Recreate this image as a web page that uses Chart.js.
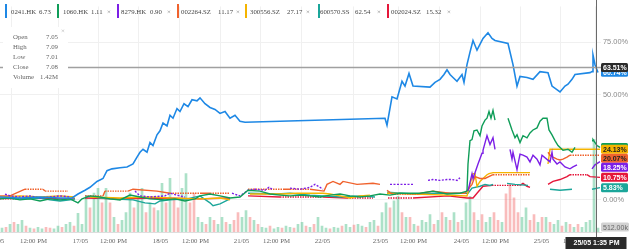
<!DOCTYPE html>
<html>
<head>
<meta charset="utf-8">
<script src="https://cdn.jsdelivr.net/npm/chart.js@4.4.1/dist/chart.umd.min.js"></script>
<style>
  html, body { margin: 0; padding: 0; background: #fff; }
  #wrap { width: 640px; height: 249px; position: relative; }
</style>
</head>
<body>
<div id="wrap"><canvas id="chart"></canvas></div>
<script>
// symbols, last prices and % change at the crosshair
const symbols = ["0241.HK", "1060.HK", "8279.HK", "002264.SZ", "300556.SZ", "600570.SS", "002024.SZ"];
const lastPrices = ["6.73", "1.11", "0.90", "11.17", "27.17", "62.54", "15.32"];
const badgePct = [60.74, null, 18.25, 20.07, 24.13, 5.83, 10.75];
const colors = ["#1e88e5", "#0f9d58", "#7c1fe6", "#f0622d", "#f5b400", "#1ba69a", "#e5173a"];
const badgeText = ["#fff", "#fff", "#fff", "#222", "#222", "#fff", "#fff"];

// time axis: session hours (16/05 .. 25/05), ticks every half session
const tickTimes = [-0.2, 3.5, 8.2, 11.5, 16.2, 19.7, 24.3, 27.8, 32.4, 38.2, 41.5, 46.3, 49.7, 54.3, 57.8];
const tickLabels = ["16/05", "12:00 PM", "17/05", "12:00 PM", "18/05", "12:00 PM", "21/05", "12:00 PM",
  "22/05", "23/05", "12:00 PM", "24/05", "12:00 PM", "25/05", "12:00 PM"];
const pctTicks = [0, 25, 50, 75];

// % change series, [time, pct]; null = no trading data
const s0241 = [[0,1.4],[2,0.9],[4,1.4],[6,0.9],[7.2,0.9],[7.8,2.8],[8.5,4.6],[9,6.0],[9.7,8.8],[10.3,10.2],[10.7,13.9],[11.2,14.8],[12,15.3],[12.7,15.7],[13.3,17.1],[13.7,20.4],[14,22.7],[14.3,24.1],[14.7,22.7],[15,27.3],[15.3,25.9],[15.7,31.0],[16,32.9],[16.3,36.6],[16.7,35.2],[17,40.3],[17.3,38.9],[17.7,43.5],[18,42.1],[18.4,45.8],[18.8,44.4],[19.2,47.7],[19.7,47.2],[20,48.6],[20.5,45.8],[21,44.0],[21.5,43.1],[22,41.2],[22.5,42.1],[23,38.9],[23.5,40.3],[24,37.5],[24.5,37.0],[38.5,38.9],[38.7,35.6],[39.2,49.1],[39.7,48.1],[40.2,56.5],[40.5,54.2],[40.9,60.2],[41.3,54.2],[43,53.7],[43.5,56.0],[44,57.4],[44.4,59.7],[44.7,62.0],[45,59.7],[45.3,58.3],[45.7,56.5],[46.2,59.7],[46.4,56.0],[46.7,64.4],[47,70.4],[47.3,75.9],[47.7,71.3],[48.3,76.9],[48.8,79.6],[49.2,76.9],[49.5,75.9],[50.8,74.5],[51.3,64.4],[51.7,54.2],[52,58.8],[52.7,58.3],[53.3,57.4],[54,61.1],[54.8,60.6],[55.2,54.2],[56,51.4],[56.5,54.2],[56.8,55.1],[57.2,57.4],[57.5,59.7],[59,60.6],[59.2,61.1],[59.3,69.0],[59.5,64.4],[59.8,60.7]];
const s1060 = [[0,0.5],[1,0.9],[2,0],[3,0.5],[4,-0.5],[5,0.5],[6,0],[7,0.5],[7.8,-1.4],[8.2,0.5],[9,1.9],[10,1.4],[11,0.5],[12,0],[13,2.3],[14,1.4],[15,0.5],[16.5,0],[17.5,0.5],[18.5,-0.5],[19.5,0.5],[20,1.9],[21,2.8],[22,1.9],[23,0.9],[24,1.4],[24.8,4.6],[26,4.2],[27,2.8],[28,2.3],[29,1.9],[30,2.3],[31,1.9],[32,1.4],[33,2.3],[34,2.8],[35,1.9],[36,1.4],[37,1.9],[38,2.8],[39,2.3],[40,3.2],[42,3.2],[43.3,4.2],[44.7,2.8],[46,3.2],[46.7,4.2],[46.8,17.1],[47,28.2],[47.2,28.7],[47.4,32.9],[47.7,33.3],[48,30.6],[48.2,35.2],[48.5,38.0],[48.7,38.9],[48.9,42.1],[49.1,38.9],[49.3,42.6],[49.5,38.0],[50,null],[50.8,38.9],[51.2,33.3],[51.5,29.6],[51.7,31.0],[52,27.3],[52.3,30.6],[52.7,29.6],[53,31.9],[53.3,33.3],[53.7,34.3],[54,37.5],[54.3,38.9],[54.7,38.9],[54.9,33.3],[55.2,31.0],[55.5,28.2],[55.8,25.9],[56.3,23.6],[56.8,24.1],[57.2,22.7],[57.5,25.0],[58,null],[59.2,28.2],[59.3,28.7],[59.7,25.9],[60,25.0]];
const s8279 = [[0.5,2.8],[1,1.9],[2,1.4],[3,1.9],[4,0.9],[5,1.4],[6,1.9],[7,1.4],[10,null],[13.5,4.2],[14,1.9],[15,1.4],[16.5,1.9],[17,3.2],[18,1.9],[18.5,1.4],[20,null],[23.2,3.2],[24,1.9],[24.8,4.6],[25.5,5.1],[26.5,4.6],[26.9,6.0],[27.2,5.1],[28,null],[29,5.6],[30,5.1],[31,6.0],[31.5,7.4],[32.3,5.1],[35,null],[39,7.4],[40,7.4],[41.3,7.4],[42,null],[42.8,9.3],[43.3,9.7],[44,9.3],[44.7,9.7],[45.2,9.7],[45.7,9.3],[46,10.6],[46.4,null],[46.8,4.2],[47.2,12.5],[47.3,10.2],[47.8,17.1],[48.2,22.2],[48.3,23.6],[48.7,30.6],[49,26.4],[49.3,29.6],[49.5,24.1],[50,null],[51,24.1],[51.2,19.4],[51.3,22.7],[51.7,14.4],[52,21.8],[52.3,21.3],[52.7,20.4],[53,18.1],[53.3,21.3],[53.7,19.4],[54,16.7],[54.2,21.3],[55,18.1],[55.2,22.7],[55.3,19.4],[55.7,17.1],[56,18.1],[56.5,15.7],[57,14.8],[57.3,15.7],[57.7,16.7],[58,null],[59.2,14.8],[59.5,16.7],[60,18.25]];
const s002264 = [[0,1.9],[1,1.9],[2.5,5.1],[4.3,5.1],[4.5,4.2],[6.8,4.2],[7.5,null],[8.5,1.9],[10.3,1.9],[10.5,4.2],[12.8,4.2],[13.3,5.1],[15.7,4.2],[17,3.2],[20,3.2],[21,3.2],[23,3.2],[24,null],[24.8,5.1],[28.3,5.1],[29,5.1],[31,5.1],[32.4,4.2],[32.7,7.4],[33.3,8.8],[34,7.4],[34.3,8.8],[35.7,7.4],[37.3,7.9],[38,7.4],[38.3,null],[38.7,4.6],[39.2,2.8],[41.7,2.8],[43.3,4.2],[45,3.2],[46.5,3.2],[47.2,7.4],[47.5,11.1],[48,10.2],[48.5,10.2],[49.3,12.0],[53,12.0],[54,null],[54.8,22.7],[55,21.3],[55.3,20.4],[55.7,19.4],[56,19.0],[56.3,19.4],[56.7,20.4],[57,21.3],[60,21.3]];
const s300556 = [[0,1.4],[2,1.9],[4,1.4],[6,1.9],[7.5,1.4],[8,null],[9,1.4],[12,0.9],[15,1.4],[17,0.9],[20,0.5],[22,0.9],[23,0],[24,null],[25,2.8],[28,2.8],[29.7,3.2],[32.3,3.2],[33,2.8],[34,1.9],[35,0.9],[36,1.9],[37,2.3],[38,null],[38.7,3.2],[41.3,2.8],[44.8,2.3],[46.7,1.9],[47,7.4],[47.3,12.5],[47.5,12.5],[47.7,6.5],[48,8.8],[48.3,10.2],[48.7,12.0],[48.9,12.5],[49.3,13.0],[53,13.0],[54,null],[54.8,17.1],[55,24.1],[60,24.13]];
const s600570 = [[0,0.9],[2,0.5],[4,0.9],[5,0],[6,-0.5],[7,0],[7.5,0.5],[8,null],[8.5,1.9],[10,0.9],[11,0.5],[13.3,0],[14.5,-1.4],[15.5,-1.9],[16,-0.5],[17,0],[18.7,0.5],[20,1.9],[21,-1.4],[21.3,-2.8],[22,-1.9],[23,0.5],[24,null],[24.8,3.2],[27.7,2.8],[29,3.2],[31,2.3],[32.3,1.9],[34,1.4],[36,1.9],[37.5,1.4],[38,null],[38.7,3.7],[41.3,2.8],[43.3,3.2],[46.3,3.2],[46.8,3.2],[47.2,5.6],[48,6.5],[48.5,7.4],[49,6.9],[49.3,7.4],[50,null],[50.7,7.9],[51.5,7.4],[52.8,6.9],[54,null],[55,5.1],[56,4.6],[57.2,5.1],[58,null],[59.2,5.1],[60,5.83]];
const s002024 = [[0,0.5],[2,0.5],[4,0.9],[6,0.5],[7.5,0.5],[8,null],[8.5,0.9],[12,0.5],[16,0.9],[20,0.5],[23,0.9],[24,null],[24.8,1.9],[28,1.4],[32.3,1.4],[34.7,0.9],[37.3,0.9],[38,null],[38.8,0.9],[41.3,0.9],[44.8,1.9],[46.7,0.9],[47.3,0.9],[47.7,3.2],[48.3,6.5],[49.2,6.9],[52,6.9],[52.3,7.9],[52.7,6.5],[53,6.0],[54,null],[54.8,7.4],[55.3,8.8],[56,9.7],[56.7,11.1],[57,12.0],[58.7,12.0],[59,11.1],[60,10.75]];
const series = [s0241, s1060, s8279, s002264, s300556, s600570, s002024];

// volume (millions), one bar every 0.4 session hours from 0.2; 1 = up, 0 = down
const volStart = 0.2, volStep = 0.4;
const volume = [0.5,0.6,1.0,1.25,1.0,1.5,0.75,0.5,0.4,0.6, 0.4,0.6,0.5,0.4,0.75,0.6,1.0,1.25,0.75,2.4,
  1.0,4.4,3.1,5.0,5.6,3.75,5.6,3.75,1.9,1.0, 1.5,2.5,5.0,3.1,4.4,5.6,2.5,3.75,3.1,2.75,
  6.25,3.75,6.9,4.4,3.1,5.6,7.5,3.75,5.0,1.9, 1.25,1.0,1.9,1.5,1.0,1.9,1.25,1.0,1.5,2.5,
  1.9,2.75,1.9,1.5,1.0,0.6,0.5,0.75,0.4,0.6, 0.5,0.75,0.6,0.5,1.0,1.25,0.75,0.6,1.0,1.9,
  0.75,0.5,0.4,0.6,0.5,0.75,1.0,0.6,0.9,1.0, 0.75,0.6,1.25,1.5,0.75,2.5,3.75,3.1,4.0,4.6,
  2.5,1.9,1.9,1.0,0.75,1.5,1.25,2.25,1.0,1.5, 2.5,1.9,1.5,2.5,1.25,1.5,3.75,4.6,2.5,1.5,
  2.25,1.25,1.9,2.5,1.5,1.25,4.9,6.1,4.4,2.5, 1.9,3.1,1.5,2.25,1.25,1.9,1.9,1.25,1.0,1.5,
  0.75,1.25,1.0,0.6,1.0,0.6,1.25,1.5,11.9,0.5];
const volUp = [1,0,1,0,1,1,0,1,0,1, 1,0,0,1,1,0,1,1,0,1, 1,1,0,1,1,0,1,0,1,0, 1,1,1,0,1,1,0,1,0,1,
  1,0,1,0,0,1,1,0,0,1, 1,0,1,0,1,1,0,1,0,0, 1,1,0,1,0,1,1,0,1,1, 0,1,1,0,1,1,0,1,0,1,
  1,1,0,1,1,0,1,1,0,1, 1,0,1,1,0,1,1,0,1,1, 0,1,0,1,0,1,1,1,0,1, 0,1,0,1,0,1,1,1,0,1,
  0,1,1,0,0,1,0,0,0,0, 1,1,0,0,1,0,1,0,1,1, 0,1,0,1,0,1,1,1,1,1];

// crosshair readout
const crossTime = 59.6, crossPct = 63.51, crossVolume = "512.00k", crossLabel = "25/05 1:35 PM";
const ohlcLabels = ["Open", "High", "Low", "Close", "Volume"];
const ohlcValues = ["7.05", "7.09", "7.01", "7.08", "1.42M"];

const SERIF = "'Liberation Serif', 'DejaVu Serif', serif";
const SANS = "'Liberation Sans', Arial, sans-serif";

// thinly traded stretches look dotted in the original
const dotted = (i) => (ctx) => {
  if (i === 2 && ctx.p0.parsed.x < 46.5) return [2, 1.5];
  if ((i === 3 || i === 6) && ctx.p0.parsed.y === ctx.p1.parsed.y && ctx.p1.parsed.x - ctx.p0.parsed.x > 1.5) return [1.5, 1];
  return undefined;
};

const lineSets = series.map((s, i) => ({
  type: "line",
  label: symbols[i],
  data: s.map(([t, v]) => ({ x: t, y: v })),
  borderColor: colors[i],
  borderWidth: i === 0 ? 1.6 : 1.4,
  pointRadius: 0,
  tension: 0,
  spanGaps: false,
  segment: { borderDash: dotted(i) },
  yAxisID: "y",
  order: i === 0 ? 0 : 1,
}));

const volSet = {
  type: "bar",
  label: "Volume",
  data: volume.map((v, i) => ({ x: volStart + i * volStep, y: v })),
  backgroundColor: volUp.map((u) => (u ? "rgba(38,176,110,0.38)" : "rgba(240,80,80,0.38)")),
  barThickness: 2,
  yAxisID: "yv",
  order: 10,
};

const overlay = {
  id: "overlay",
  afterDraw(chart) {
    const { ctx, chartArea: a, scales } = chart;
    const xs = scales.x, ys = scales.y;
    ctx.save();

    // crosshair
    const cy = Math.round(ys.getPixelForValue(crossPct)) + 0.5;
    const cx = Math.round(xs.getPixelForValue(crossTime)) + 0.5;
    ctx.strokeStyle = "#a0a0a0";
    ctx.lineWidth = 1.5;
    ctx.beginPath(); ctx.moveTo(0, cy); ctx.lineTo(a.right, cy); ctx.stroke();
    ctx.strokeStyle = "#6a6a6a";
    ctx.lineWidth = 1;
    ctx.beginPath(); ctx.moveTo(cx, 0); ctx.lineTo(cx, a.bottom + 6); ctx.stroke();

    // OHLC box
    ctx.fillStyle = "#fff";
    ctx.fillRect(3, 27, 65, 61);
    ctx.font = "6.8px " + SERIF;
    ctx.textBaseline = "middle";
    ohlcLabels.forEach((l, i) => {
      ctx.fillStyle = "#666";
      ctx.textAlign = "left";
      ctx.fillText(l, 13, 37 + i * 10);
      ctx.textAlign = "right";
      ctx.fillText(ohlcValues[i], 58, 37 + i * 10);
    });
    ctx.fillStyle = "#aaa";
    ctx.textAlign = "left";
    ctx.fillText("\u00d7", 61, 31);

    // legend row
    const barX = [5, 57, 117, 177, 245, 318, 387];
    const symX = [11, 63, 121, 181, 250, 320, 391];
    const priceX = [39, 91, 150, 218, 287, 355, 426];
    const closeX = [null, 107, 167, 236, 306, 377, 447];
    ctx.font = "6.8px " + SERIF;
    symbols.forEach((s, i) => {
      ctx.fillStyle = colors[i];
      ctx.fillRect(barX[i], 4, 2, 14);
      ctx.fillStyle = "#444";
      ctx.fillText(s, symX[i], 12);
      ctx.fillText(lastPrices[i], priceX[i], 12);
      if (closeX[i] !== null) {
        ctx.fillStyle = "#777";
        ctx.fillText("\u00d7", closeX[i], 12);
      }
    });

    // time labels
    ctx.fillStyle = "#666";
    ctx.textAlign = "center";
    tickTimes.forEach((t, i) => {
      ctx.fillText(tickLabels[i], xs.getPixelForValue(t) - 1.5, a.bottom + 9);
    });

    // right-side value badges, pushed apart when they collide
    const bh = 9;
    const items = [];
    badgePct.forEach((v, i) => {
      if (v !== null) items.push({ i, v, y: ys.getPixelForValue(v) });
    });
    items.sort((p, q) => p.y - q.y);
    for (let k = 1; k < items.length; k++) {
      if (items[k].y - items[k - 1].y < bh) items[k].y = items[k - 1].y + bh;
    }
    const badge = (y, fill, txtColor, text, w) => {
      ctx.fillStyle = fill;
      ctx.beginPath();
      ctx.roundRect(a.right, y - bh / 2, w, bh, 1.5);
      ctx.fill();
      ctx.fillStyle = txtColor;
      ctx.textAlign = "left";
      ctx.fillText(text, a.right + 2, y + 0.5);
    };
    ctx.font = "bold 7px " + SANS;
    // 1060.HK sits underneath the 300556.SZ badge
    badge(ys.getPixelForValue(25.0), colors[1], "#fff", "25.00%", 27);
    items.forEach((it) => badge(it.y, colors[it.i], badgeText[it.i], badgePct[it.i].toFixed(2) + "%", 27));
    badge(cy, "#2a2a2a", "#fff", crossPct.toFixed(2) + "%", 27);
    ctx.font = "7px " + SANS;
    badge(scales.yv.getPixelForValue(0.5) - 1, "#d2d2d2", "#666", crossVolume, 28);

    // crosshair time label
    ctx.fillStyle = "#2a2a2a";
    ctx.fillRect(cx - 31, a.bottom + 5, 61, 12);
    ctx.fillStyle = "#fff";
    ctx.font = "bold 7px " + SANS;
    ctx.textAlign = "center";
    ctx.fillText(crossLabel, cx, a.bottom + 11.5);
    ctx.restore();
  },
};

new Chart(document.getElementById("chart"), {
  type: "line",
  data: { datasets: [...lineSets, volSet] },
  options: {
    responsive: true,
    maintainAspectRatio: false,
    animation: false,
    devicePixelRatio: 1,
    layout: { padding: { left: 0, right: 0, top: 0, bottom: 17 } },
    plugins: { legend: { display: false }, tooltip: { enabled: false } },
    scales: {
      x: {
        type: "linear",
        min: 0,
        max: 60.1,
        offset: false,
        afterBuildTicks: (s) => { s.ticks = tickTimes.filter((t) => t >= 0).map((t) => ({ value: t })); },
        ticks: { display: false },
        grid: { color: "#f0f0f0", drawTicks: false },
        border: { display: true, color: "#dddddd" },
      },
      y: {
        position: "right",
        min: -15.28,
        max: 92.13,
        afterBuildTicks: (s) => { s.ticks = pctTicks.map((v) => ({ value: v })); },
        afterFit: (s) => { s.width = 39; },
        ticks: {
          padding: 2,
          color: "#8a8a8a",
          font: { family: SANS, size: 7.4 },
          callback: (v) => v.toFixed(2) + "%",
        },
        grid: { color: "#f0f0f0", drawTicks: false },
        border: { display: false },
      },
      yv: { display: false, min: 0, max: 29 },
    },
  },
  plugins: [overlay],
});
</script>
</body>
</html>
